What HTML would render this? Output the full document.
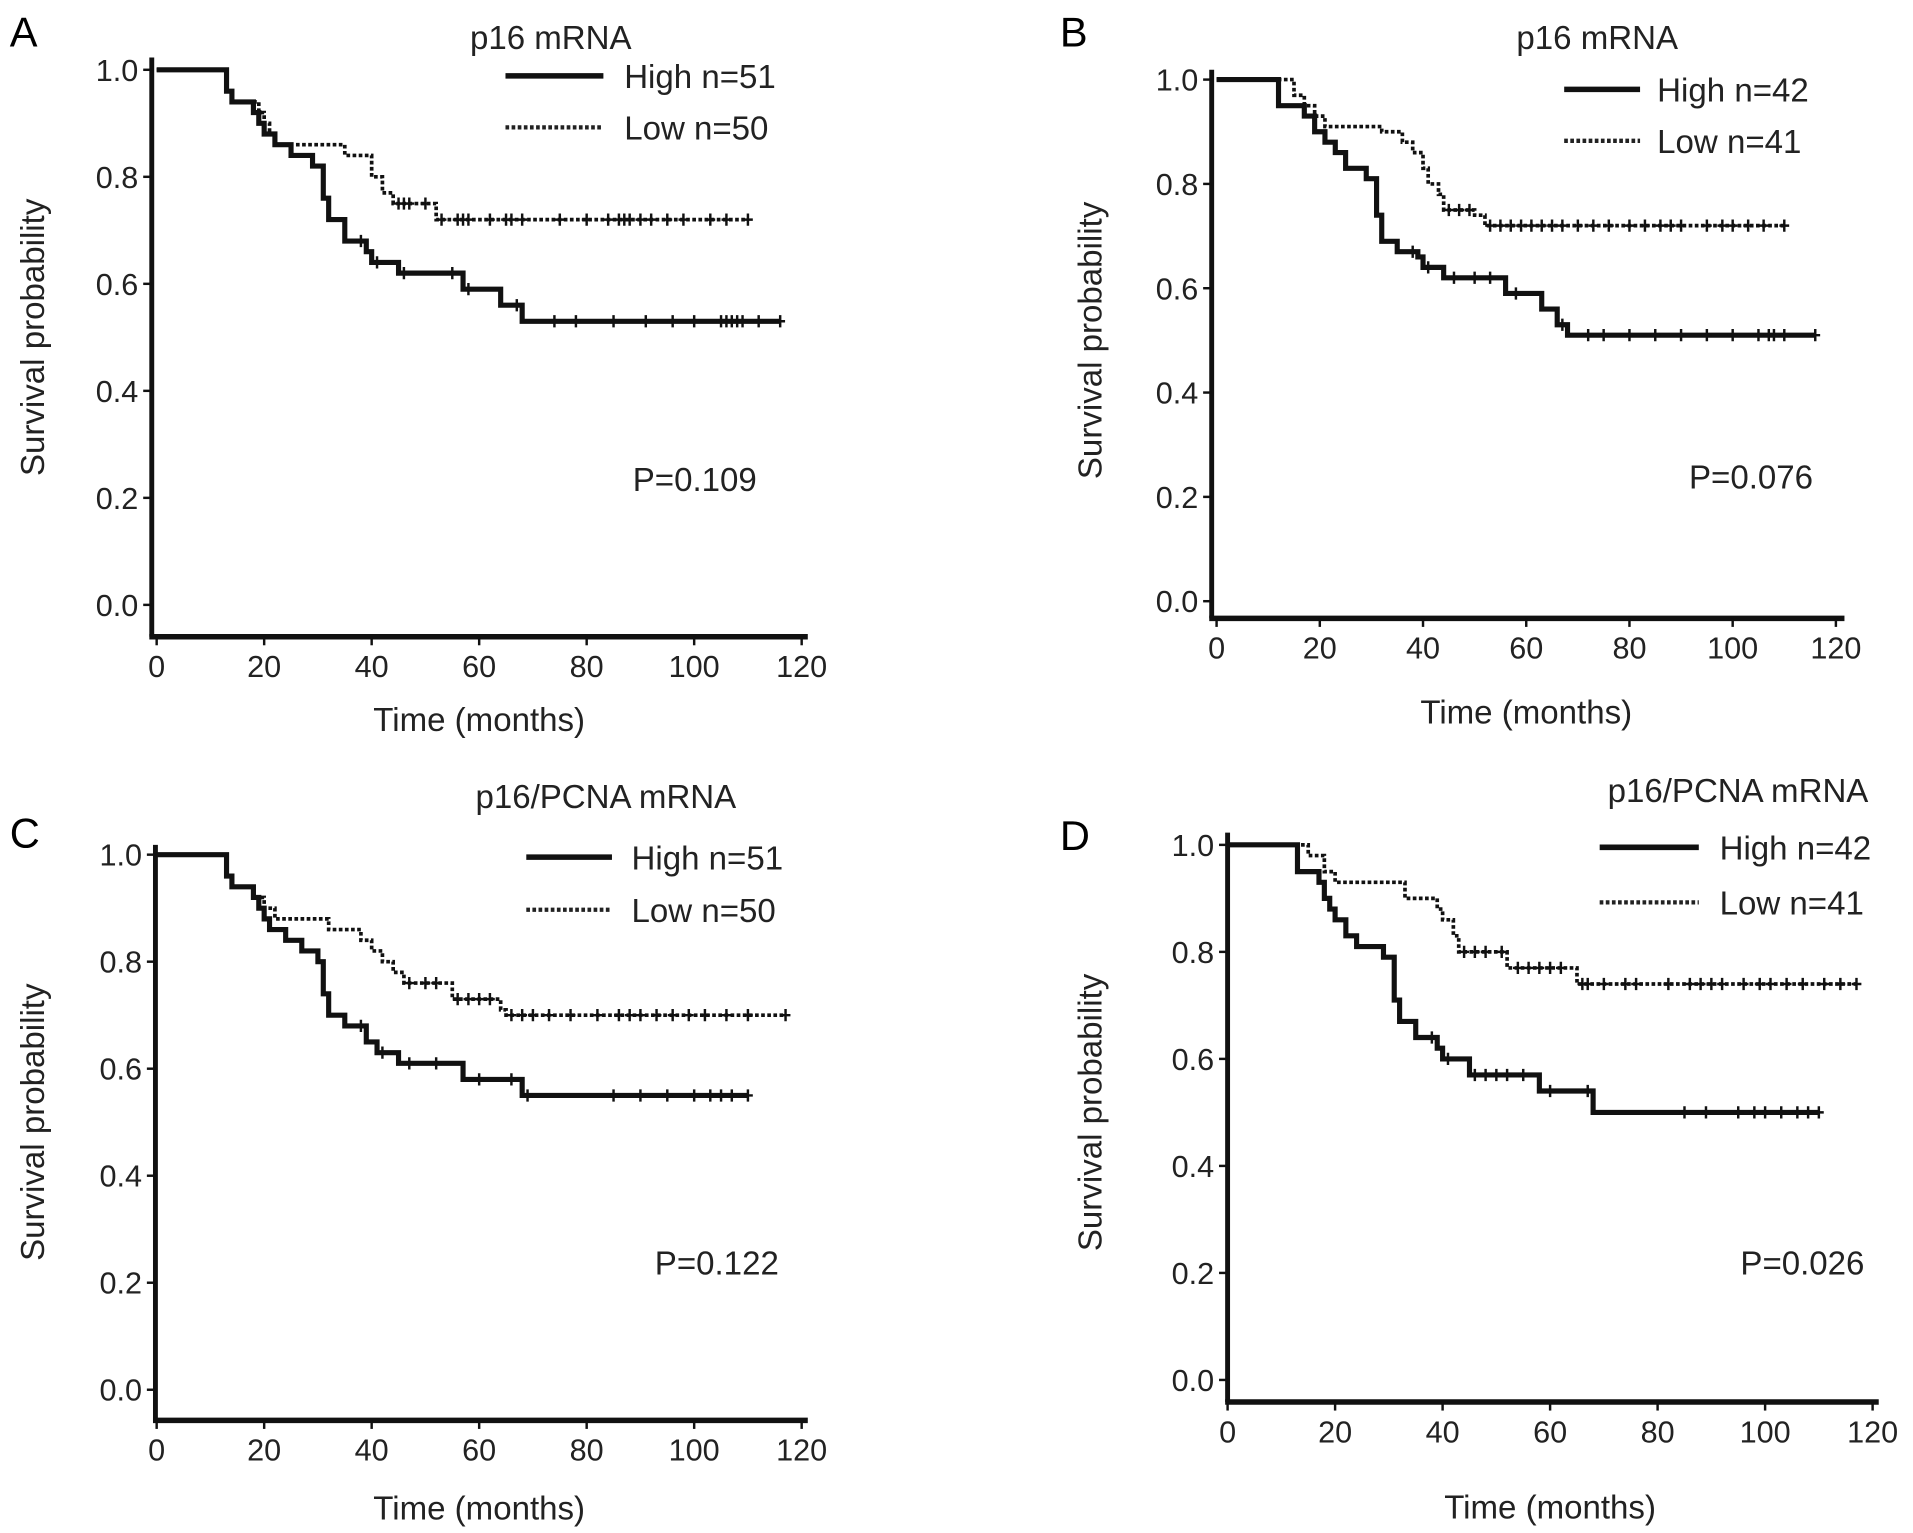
<!DOCTYPE html>
<html><head><meta charset="utf-8"><style>
html,body{margin:0;padding:0;background:#fff;}
svg{display:block;font-family:"Liberation Sans",sans-serif;}
</style></head><body>
<svg id="fig" width="1913" height="1533" viewBox="0 0 1563 1252" preserveAspectRatio="none" xmlns="http://www.w3.org/2000/svg"></svg>
<script>
const xTicks=[0,20,40,60,80,100,120];
const yTicks=[0,0.2,0.4,0.6,0.8,1.0];
const yTickLabels=["0.0","0.2","0.4","0.6","0.8","1.0"];
const panelLetters=["A","B","C","D"];
const legendTitles=["p16 mRNA","p16 mRNA","p16/PCNA mRNA","p16/PCNA mRNA"];
const highLabels=["High n=51","High n=42","High n=51","High n=42"];
const lowLabels=["Low n=50","Low n=41","Low n=50","Low n=41"];
const pValues=["P=0.109","P=0.076","P=0.122","P=0.026"];
const highTimesA=[13,14,18,19,20,22,25,29,31,32,35,39,40,45,57,64,68];
const highSurvA=[0.96,0.94,0.92,0.90,0.88,0.86,0.84,0.82,0.76,0.72,0.68,0.66,0.64,0.62,0.59,0.56,0.53];
const highCensA=[38,41,46,55,58,67,74,78,85,91,96,100,105,106,107,108,109,112,116];
const lowTimesA=[13,14,19,20,21,22,35,40,42,44,52];
const lowSurvA=[0.96,0.94,0.92,0.90,0.88,0.86,0.84,0.80,0.77,0.75,0.72];
const lowCensA=[45,46,47,50,53,56,57,58,62,65,66,68,75,80,84,86,87,88,90,92,95,98,103,106,110];
const highTimesB=[12,17,19,21,23,25,29,31,32,35,39,40,44,56,63,66,68];
const highSurvB=[0.95,0.93,0.90,0.88,0.86,0.83,0.81,0.74,0.69,0.67,0.66,0.64,0.62,0.59,0.56,0.53,0.51];
const highCensB=[38,41,46,50,53,58,67,72,75,80,85,90,95,100,105,107,108,110,116];
const lowTimesB=[15,17,19,21,32,36,38,40,41,43,44,50,52];
const lowSurvB=[0.97,0.95,0.93,0.91,0.90,0.88,0.86,0.83,0.80,0.78,0.75,0.74,0.72];
const lowCensB=[45,47,49,53,55,57,59,61,63,65,67,70,73,76,80,83,86,88,90,95,98,100,103,106,110];
const highTimesC=[13,14,18,19,20,21,24,27,30,31,32,35,39,41,45,57,68];
const highSurvC=[0.96,0.94,0.92,0.90,0.88,0.86,0.84,0.82,0.80,0.74,0.70,0.68,0.65,0.63,0.61,0.58,0.55];
const highCensC=[38,42,47,52,60,66,69,85,90,95,100,103,105,107,110];
const lowTimesC=[13,14,18,20,22,32,38,40,42,44,46,55,64,65];
const lowSurvC=[0.96,0.94,0.92,0.90,0.88,0.86,0.84,0.82,0.80,0.78,0.76,0.73,0.71,0.70];
const lowCensC=[47,50,52,56,58,60,62,66,68,70,73,77,82,86,88,90,93,96,99,102,106,110,117];
const highTimesD=[13,17,18,19,20,22,24,29,31,32,35,39,40,45,58,68];
const highSurvD=[0.95,0.93,0.90,0.88,0.86,0.83,0.81,0.79,0.71,0.67,0.64,0.62,0.60,0.57,0.54,0.50];
const highCensD=[38,41,46,48,50,52,55,60,67,85,89,95,98,100,103,106,108,110];
const lowTimesD=[15,18,20,33,39,40,42,43,52,65];
const lowSurvD=[0.98,0.95,0.93,0.90,0.88,0.86,0.83,0.80,0.77,0.74];
const lowCensD=[44,46,48,51,54,56,58,60,62,66,67,70,74,76,82,86,88,90,92,96,99,101,104,107,111,114,117];
const highEnd=[116,116,110,110];
const lowEnd=[110,110,117,117];

const series=[
 {ht:highTimesA,hs:highSurvA,hc:highCensA,lt:lowTimesA,ls:lowSurvA,lc:lowCensA},
 {ht:highTimesB,hs:highSurvB,hc:highCensB,lt:lowTimesB,ls:lowSurvB,lc:lowCensB},
 {ht:highTimesC,hs:highSurvC,hc:highCensC,lt:lowTimesC,ls:lowSurvC,lc:lowCensC},
 {ht:highTimesD,hs:highSurvD,hc:highCensD,lt:lowTimesD,ls:lowSurvD,lc:lowCensD}];
const L=[
 {ax:124,x0:128,x1:655,y1:57,y0:494,xa:520,xe:660,top:47,lx:8,ly:38,tx:450,ty:40,hy:62,ly2:104,l0:413,l1:493,tl:510,px:517,py:401,yt:27,xty:597},
 {ax:990,x0:994,x1:1500,y1:65,y0:491,xa:505,xe:1507,top:57,lx:866,ly:38,tx:1305,ty:40,hy:73,ly2:115,l0:1278,l1:1340,tl:1354,px:1380,py:399,yt:891,xty:591},
 {ax:127,x0:128,x1:655,y1:698,y0:1135,xa:1160,xe:660,top:690,lx:8,ly:692,tx:495,ty:660,hy:700,ly2:743,l0:430,l1:500,tl:516,px:535,py:1041,yt:27,xty:1241},
 {ax:1003,x0:1003,x1:1530,y1:690,y0:1127,xa:1145,xe:1535,top:680,lx:866,ly:694,tx:1420,ty:655,hy:692,ly2:737,l0:1307,l1:1388,tl:1405,px:1422,py:1041,yt:891,xty:1240}];

const NS="http://www.w3.org/2000/svg";
const svg=document.getElementById('fig');
function mk(tag,attrs,parent){const e=document.createElementNS(NS,tag);for(const k in attrs)e.setAttribute(k,attrs[k]);(parent||svg).appendChild(e);return e;}
function txt(s,attrs,parent){const e=mk('text',attrs,parent);e.textContent=s;return e;}

L.forEach((p,i)=>{
 const g=mk('g',{});
 
 
 const X=t=>p.x0+(p.x1-p.x0)*t/120;
 const Y=v=>p.y0+(p.y1-p.y0)*v;
 const a=txt(panelLetters[i],{x:p.lx,y:p.ly,'font-size':34},g);
 
 const ya=mk('line',{x1:p.ax,y1:p.top,x2:p.ax,y2:p.xa,stroke:'#111','stroke-width':4},g);
 
 const xa=mk('line',{x1:p.ax-2,y1:p.xa,x2:p.xe,y2:p.xa,stroke:'#111','stroke-width':4.5},g);
 
 yTicks.forEach((v,j)=>{
  mk('line',{x1:p.ax-7,y1:Y(v),x2:p.ax,y2:Y(v),stroke:'#111','stroke-width':2},g);
  const t=txt(yTickLabels[j],{x:p.ax-11,y:Y(v)+9,'font-size':25,'text-anchor':'end',fill:'#222'},g);
  
 });
 xTicks.forEach(v=>{
  mk('line',{x1:X(v),y1:p.xa,x2:X(v),y2:p.xa+7,stroke:'#111','stroke-width':2},g);
  const t=txt(String(v),{x:X(v),y:p.xa+33,'font-size':25,'text-anchor':'middle',fill:'#222'},g);
  
 });
 const xt=txt('Time (months)',{x:(p.x0+p.x1)/2,y:p.xty,'font-size':27,'text-anchor':'middle',fill:'#222'},g);
 
 const yc=(p.y0+p.y1)/2;
 const yt=txt('Survival probability',{x:p.yt,y:yc+9,'font-size':27,'text-anchor':'middle',fill:'#222',transform:`rotate(-90 ${p.yt} ${yc})`},g);
 
 const lt=txt(legendTitles[i],{x:p.tx,y:p.ty,'font-size':27,'text-anchor':'middle',fill:'#222'},g);
 
 const l1=mk('line',{x1:p.l0,y1:p.hy,x2:p.l1,y2:p.hy,stroke:'#111','stroke-width':4.5},g);
 
 const h=txt(highLabels[i],{x:p.tl,y:p.hy+10,'font-size':27,fill:'#222'},g);
 
 const l2=mk('line',{x1:p.l0,y1:p.ly2,x2:p.l1,y2:p.ly2,stroke:'#222','stroke-width':3.5,'stroke-dasharray':'3 2'},g);
 
 const lo=txt(lowLabels[i],{x:p.tl,y:p.ly2+10,'font-size':27,fill:'#222'},g);
 
 const pv=txt(pValues[i],{x:p.px,y:p.py,'font-size':27,fill:'#222'},g);
 
 const s=series[i];
 function curve(times,surv,cens,end,name,w,dash){
  let d=`M${X(0)},${Y(1)}`;
  times.forEach((t,k)=>{d+=` H${X(t)} V${Y(surv[k])}`;});
  d+=` H${X(end)}`;
  const pa=mk('path',{d:d,fill:'none',stroke:'#111','stroke-width':w,'stroke-dasharray':dash||'none'},g);
  
  cens.forEach(c=>{
   let v=1;times.forEach((t,k)=>{if(t<=c)v=surv[k];});
   const m=mk('path',{d:`M${X(c)},${Y(v)-5}V${Y(v)+5}M${X(c)-4},${Y(v)}H${X(c)+4}`,stroke:'#111','stroke-width':2},g);
   
  });
 }
 curve(s.lt,s.ls,s.lc,lowEnd[i],'low',3,'3 2');
 curve(s.ht,s.hs,s.hc,highEnd[i],'high',4.2);
});
</script>
</body></html>
